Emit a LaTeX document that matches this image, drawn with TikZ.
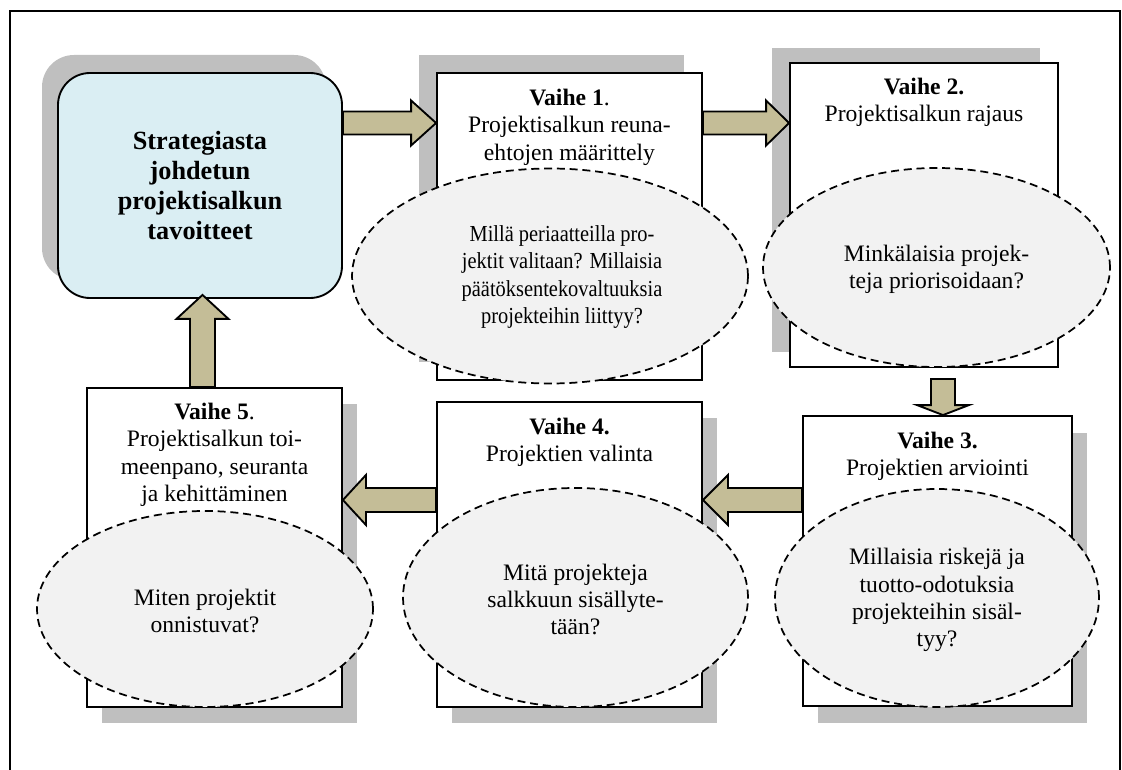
\documentclass[tikz,border=0pt]{standalone}
\usepackage{fontspec}
\setmainfont{Liberation Serif}
\newfontfamily\narrowserif[FakeStretch=0.89]{Liberation Serif}
\usetikzlibrary{calc,shapes.geometric,shadows}

\definecolor{arrowtan}{HTML}{C4BD97}
\definecolor{goalblue}{HTML}{DAEEF3}
\definecolor{shadowgray}{HTML}{BFBFBF}
\definecolor{qfill}{HTML}{F2F2F2}

\tikzset{
  outerframe/.style={draw=black, line width=1.3pt},
  goalbox/.style={draw=black, line width=1.4pt, fill=goalblue, rounded corners=24pt,
    align=center, font=\fontsize{19.7}{22.5}\selectfont\bfseries},
  stagebox/.style={draw=black, line width=1.4pt, fill=white, inner sep=0pt},
  stagetext/.style={anchor=north, inner sep=0pt, align=center,
    font=\fontsize{17.7}{20.4}\selectfont},
  question/.style={ellipse, draw=black, line width=1.3pt,
    dash pattern=on 6pt off 3.6pt, fill=qfill, inner sep=0pt},
  qtext/.style={inner sep=0pt, align=center, font=\fontsize{17.7}{20.4}\selectfont},
  qtextnarrow/.style={qtext, font=\narrowserif\fontsize{17.2}{20.4}\selectfont},
  flowarrowstyle/.style={draw=black, line width=1.4pt, fill=arrowtan, line join=miter},
  shadowNW/.style={general shadow={fill=shadowgray, shadow xshift=-13.5pt, shadow yshift=13.5pt}},
  shadowSE/.style={general shadow={fill=shadowgray, shadow xshift=11.25pt, shadow yshift=-12pt}},
}

% block arrow: from, to, body half width, head half width, head length
\newcommand{\flowarrow}[5]{%
  \coordinate (fa-base) at ($(#2)!#5!(#1)$);
  \draw[flowarrowstyle] ($(#1)!#3!90:(#2)$) -- ($(fa-base)!#3!90:(#2)$)
    -- ($(fa-base)!#4!90:(#2)$) -- (#2) -- ($(fa-base)!#4!-90:(#2)$)
    -- ($(fa-base)!#3!-90:(#2)$) -- ($(#1)!#3!-90:(#2)$) -- cycle;}

\begin{document}
\begin{tikzpicture}[x=0.75pt,y=-0.75pt]
\useasboundingbox (0,0) rectangle (1122,770);

% page frame, open at the bottom
\draw[outerframe] (10,771) -- (10,11) -- (1120,11) -- (1120,771);

% goal box
\node[goalbox, minimum width=213pt, minimum height=168.75pt,
  general shadow={fill=shadowgray, shadow xshift=-12pt, shadow yshift=13.5pt}]
  (s) at (200,185.5) {Strategiasta\\johdetun\\projektisalkun\\tavoitteet};

% stage boxes
\node[stagebox, shadowNW, minimum width=198.75pt, minimum height=230.25pt] (v1) at (569.5,226.5) {};
\node[stagebox, general shadow={fill=shadowgray, shadow xshift=-13.5pt, shadow yshift=11.25pt},
  minimum width=201pt, minimum height=228pt] (v2) at (924,215) {};
\node[stagebox, general shadow={fill=shadowgray, shadow xshift=11.25pt, shadow yshift=-12.75pt},
  minimum width=201.75pt, minimum height=217.5pt] (v3) at (937.5,561) {};
\node[stagebox, shadowSE, minimum width=198.75pt, minimum height=228.75pt] (v4) at (569.5,554.5) {};
\node[stagebox, shadowSE, minimum width=191.25pt, minimum height=239.25pt] (v5) at (214.5,547.5) {};

% stage titles
\node[stagetext] (t1) at ($(v1.north)+(0,17)$) {\textbf{Vaihe 1}.\\Projektisalkun reuna-\\ehtojen määrittely};
\node[stagetext] (t2) at ($(v2.north)+(0,16)$) {\textbf{Vaihe 2.}\\Projektisalkun rajaus};
\node[stagetext] (t3) at ($(v3.north)+(0,16.5)$) {\textbf{Vaihe 3.}\\Projektien arviointi};
\node[stagetext] (t4) at ($(v4.north)+(0,16.5)$) {\textbf{Vaihe 4.}\\Projektien valinta};
\node[stagetext] (t5) at ($(v5.north)+(0,16)$) {\textbf{Vaihe 5}.\\Projektisalkun toi-\\meenpano, seuranta\\ja kehittäminen};

% flow arrows
\coordinate (a1s) at (s.east |- 0,123);
\coordinate (a1e) at (v1.west |- 0,123);
\flowarrow{a1s}{a1e}{8.6pt}{16.9pt}{18.75pt}

\coordinate (a2s) at (v1.east |- 0,123);
\coordinate (a2e) at (v2.west |- 0,123);
\flowarrow{a2s}{a2e}{8.6pt}{16.9pt}{17.25pt}

\path (v2.south -| 943,0) ++(0,11) coordinate (a3s);
\coordinate (a3e) at (v3.north -| 943,0);
\flowarrow{a3s}{a3e}{9pt}{19.5pt}{7.5pt}

\coordinate (a4s) at (v3.west |- 0,500);
\coordinate (a4e) at (v4.east |- 0,500);
\flowarrow{a4s}{a4e}{9pt}{18.75pt}{18.75pt}

\coordinate (a5s) at (v4.west |- 0,500);
\coordinate (a5e) at (v5.east |- 0,500);
\flowarrow{a5s}{a5e}{9pt}{18.75pt}{17.25pt}

\coordinate (a6s) at (v5.north -| 202.5,0);
\path (s.south -| 202.5,0) ++(0,-4) coordinate (a6e);
\flowarrow{a6s}{a6e}{9.4pt}{19.5pt}{18pt}

% guiding questions
\node[question, minimum width=297pt, minimum height=161.25pt] (e1) at (550,276) {};
\node[qtextnarrow] (q1) at ($(e1.center)+(12,1)$) {Millä periaatteilla pro-\\jektit valitaan? Millaisia\\päätöksentekovaltuuksia\\projekteihin liittyy?};

\node[question, minimum width=260.25pt, minimum height=149.25pt] (e2) at (936.5,267.5) {};
\node[qtext] (q2) at ($(e2.center)+(0,2)$) {Minkälaisia projek-\\teja priorisoidaan?};

\node[question, minimum width=243pt, minimum height=163.5pt] (e3) at (937,598) {};
\node[qtext] (q3) at ($(e3.center)+(0,2)$) {Millaisia riskejä ja\\tuotto-odotuksia\\projekteihin sisäl-\\tyy?};

\node[question, minimum width=258.75pt, minimum height=164.25pt] (e4) at (575.5,597.5) {};
\node[qtext] (q4) at ($(e4.center)+(0,2)$) {Mitä projekteja\\salkkuun sisällyte-\\tään?};

\node[question, minimum width=252pt, minimum height=147pt] (e5) at (205,609) {};
\node[qtext] (q5) at ($(e5.center)+(0,2)$) {Miten projektit\\onnistuvat?};
\end{tikzpicture}
\end{document}
